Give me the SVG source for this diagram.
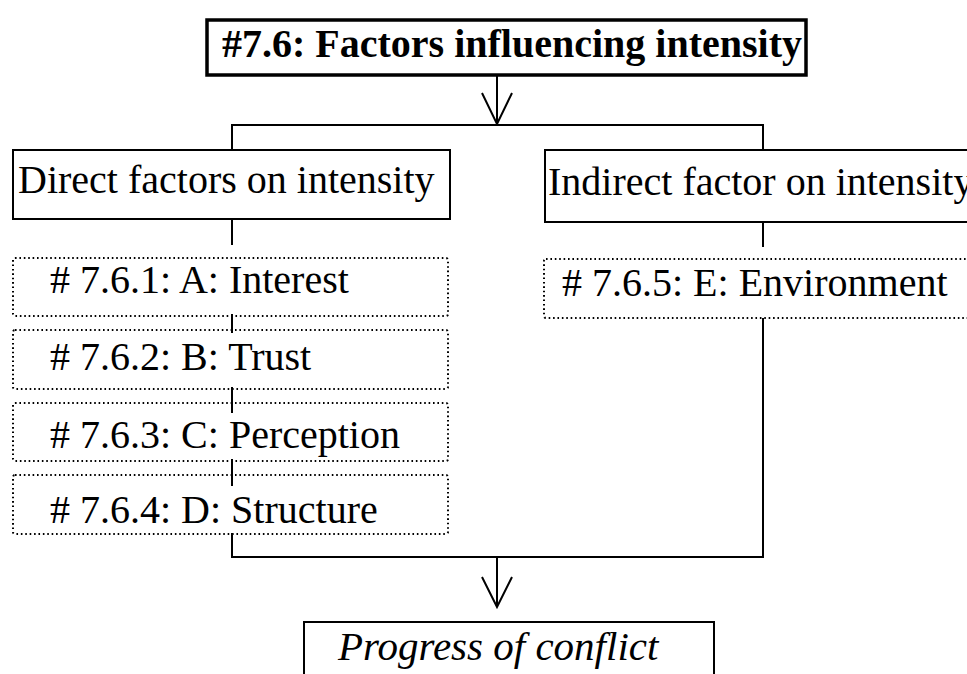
<svg xmlns="http://www.w3.org/2000/svg" width="967" height="674" viewBox="0 0 967 674">
  <style>
    .bg { fill: #ffffff; }
    .box { fill: #ffffff; stroke: #000; stroke-width: 2; }
    .title-box { fill: #ffffff; stroke: #000; stroke-width: 3.5; }
    .dot-box { fill: none; stroke: #000; stroke-width: 2; stroke-dasharray: 1.6 2.8; }
    .lbl { font-family: "Liberation Serif", "Times New Roman", serif; font-size: 40px; fill: #000; }
    .title { font-weight: bold; }
    .ital { font-style: italic; font-size: 41px; }
    .wire { fill: none; stroke: #000; stroke-width: 2; }
    .head { fill: none; stroke: #000; stroke-width: 2; stroke-linejoin: miter; }
  </style>

  <rect class="bg" x="0" y="0" width="967" height="674"/>

  <!-- connectors -->
  <g id="connectors">
    <!-- title down to the split -->
    <line class="wire" x1="497" y1="75" x2="497" y2="125"/>
    <polyline class="head" points="482,93 497,124 512,93"/>
    <polyline class="wire" points="232,150 232,125 763,125 763,150"/>
    <!-- direct column -->
    <line class="wire" x1="232" y1="219" x2="232" y2="245"/>
    <line class="wire" x1="232" y1="314" x2="232" y2="333"/>
    <line class="wire" x1="232" y1="387" x2="232" y2="413"/>
    <line class="wire" x1="232" y1="459" x2="232" y2="486"/>
    <!-- indirect column -->
    <line class="wire" x1="763" y1="222" x2="763" y2="247"/>
    <!-- merge into outcome -->
    <polyline class="wire" points="232,533 232,557 763,557 763,318"/>
    <line class="wire" x1="497" y1="557" x2="497" y2="606"/>
    <polyline class="head" points="482,577 497,607 512,577"/>
  </g>

  <g id="title">
    <rect class="title-box" x="207" y="20" width="599" height="55"/>
    <text class="lbl title" x="222" y="57">#7.6: Factors influencing intensity</text>
  </g>

  <g id="direct">
    <rect class="box" x="13" y="150" width="437" height="69"/>
    <text class="lbl" x="18" y="193">Direct factors on intensity</text>
  </g>

  <g id="indirect">
    <rect class="box" x="545" y="150" width="440" height="72"/>
    <text class="lbl" x="548" y="195">Indirect factor on intensity</text>
  </g>

  <g id="f761">
    <rect class="dot-box" x="13" y="258" width="435" height="58" rx="2"/>
    <text class="lbl" x="50" y="293"># 7.6.1: A: Interest</text>
  </g>

  <g id="f762">
    <rect class="dot-box" x="13" y="330" width="435" height="59" rx="2"/>
    <text class="lbl" x="50" y="370"># 7.6.2: B: Trust</text>
  </g>

  <g id="f763">
    <rect class="dot-box" x="13" y="403" width="435" height="58" rx="2"/>
    <text class="lbl" x="50" y="448"># 7.6.3: C: Perception</text>
  </g>

  <g id="f764">
    <rect class="dot-box" x="13" y="475" width="435" height="59" rx="2"/>
    <text class="lbl" x="50" y="523"># 7.6.4: D: Structure</text>
  </g>

  <g id="f765">
    <rect class="dot-box" x="544" y="259" width="440" height="59" rx="2"/>
    <text class="lbl" x="562" y="296"># 7.6.5: E: Environment</text>
  </g>

  <g id="outcome">
    <rect class="box" x="304" y="622" width="410" height="70"/>
    <text class="lbl ital" x="338" y="660">Progress of conflict</text>
  </g>
</svg>
